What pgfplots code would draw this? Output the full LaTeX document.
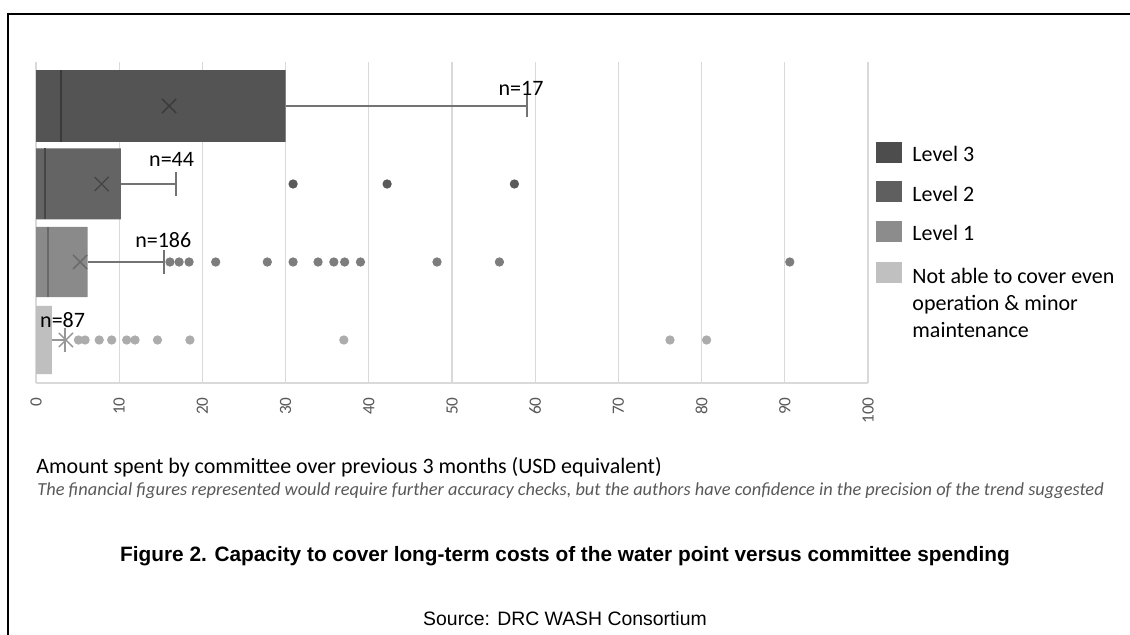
\documentclass[border=0pt]{standalone}
\usepackage{fontspec}
\setmainfont{Carlito}
\newfontfamily\arialfont{Liberation Sans}
\usepackage{pgfplots}
\pgfplotsset{compat=1.18}
\definecolor{gridc}{RGB}{217,217,217}
\definecolor{tickc}{RGB}{89,89,89}
\definecolor{cthree}{RGB}{84,84,84}
\definecolor{cthreem}{RGB}{58,58,58}
\definecolor{ctwo}{RGB}{100,100,100}
\definecolor{ctwom}{RGB}{70,70,70}
\definecolor{cone}{RGB}{138,138,138}
\definecolor{conem}{RGB}{105,105,105}
\definecolor{czero}{RGB}{191,191,191}
\definecolor{otwo}{RGB}{90,90,90}
\definecolor{oone}{RGB}{125,125,125}
\definecolor{ozero}{RGB}{172,172,172}
\definecolor{whc}{RGB}{115,115,115}
\definecolor{whzero}{RGB}{150,150,150}
\definecolor{lthree}{RGB}{77,77,77}
\definecolor{ltwo}{RGB}{95,95,95}
\definecolor{lone}{RGB}{140,140,140}
\definecolor{lzero}{RGB}{192,192,192}
\begin{document}
\begin{tikzpicture}
\path[use as bounding box] (0,0) rectangle (565pt,317.5pt);
\fill[white] (0,0) rectangle (565pt,317.5pt);
\draw[black, line width=1pt] (4pt,0) -- (4pt,310.5pt) -- (565pt,310.5pt);
\begin{axis}[
  at={(18pt,126pt)}, anchor=south west, scale only axis,
  width=416pt, height=160.5pt,
  xmin=0, xmax=100, ymin=-0.551, ymax=3.564,
  xtick={0,10,...,100}, ytick=\empty,
  xmajorgrids, grid style={gridc, line width=0.6pt},
  axis lines*=left, axis line style={gridc, line width=0.6pt},
  major tick length=0pt,
  xticklabel style={rotate=90, anchor=east, inner sep=0pt, font=\fontsize{8.6}{10}\selectfont, text=tickc},
  xticklabel shift=7pt,
  /pgf/number format/assume math mode=true,
  legend style={at={(1,1)}, anchor=north west, xshift=4pt, yshift=-39.75pt,
    draw=none, fill=none, font=\fontsize{11}{13.5}\selectfont, row sep=6.3pt, column sep=3pt, inner sep=0pt},
  legend cell align=left,
  legend image code/.code={\fill[#1] (0pt,-3.6pt) rectangle (13pt,6.9pt);},
  clip=false,
]
\addlegendimage{fill=lthree, draw=none}
\addlegendentry{Level 3}
\addlegendimage{fill=ltwo, draw=none}
\addlegendentry{Level 2}
\addlegendimage{fill=lone, draw=none}
\addlegendentry{Level 1}
\addlegendimage{fill=lzero, draw=none}
\addlegendentry{\begin{tabular}[t]{@{}l@{}}Not able to cover even\\operation \& minor\\maintenance\end{tabular}}

% Level 3
\addplot[forget plot, fill=cthree, draw=none] coordinates {(0,2.54) (30,2.54) (30,3.46) (0,3.46) (0,2.54)};
\addplot[forget plot, draw=cthreem, line width=1pt] coordinates {(3,2.54) (3,3.46)};
\addplot[forget plot, draw=whc, line width=1pt] coordinates {(30,3) (59,3)};
\addplot[forget plot, draw=whc, line width=1pt] coordinates {(59,2.86) (59,3.14)};
\addplot[forget plot, only marks, color=cthreem, mark=x, mark size=5pt, mark options={line width=0.7pt}] coordinates {(16,3)};
% Level 2
\addplot[forget plot, fill=ctwo, draw=none] coordinates {(0,1.545) (10.2,1.545) (10.2,2.455) (0,2.455) (0,1.545)};
\addplot[forget plot, draw=ctwom, line width=1pt] coordinates {(1.1,1.545) (1.1,2.455)};
\addplot[forget plot, draw=whc, line width=1pt] coordinates {(10.2,2) (16.8,2)};
\addplot[forget plot, draw=whc, line width=1pt] coordinates {(16.8,1.85) (16.8,2.15)};
\addplot[forget plot, only marks, color=ctwom, mark=x, mark size=5pt, mark options={line width=0.7pt}] coordinates {(7.9,2)};
\addplot[forget plot, only marks, color=otwo, mark=*, mark size=2.1pt] coordinates {(30.9,2) (42.2,2) (57.5,2)};
% Level 1
\addplot[forget plot, fill=cone, draw=none] coordinates {(0,0.55) (6.2,0.55) (6.2,1.45) (0,1.45) (0,0.55)};
\addplot[forget plot, draw=conem, line width=1pt] coordinates {(1.4,0.55) (1.4,1.45)};
\addplot[forget plot, draw=whc, line width=1pt] coordinates {(6.2,1) (15.4,1)};
\addplot[forget plot, draw=whc, line width=1pt] coordinates {(15.4,0.85) (15.4,1.15)};
\addplot[forget plot, only marks, color=conem, mark=x, mark size=5pt, mark options={line width=0.7pt}] coordinates {(5.3,1)};
\addplot[forget plot, only marks, color=oone, mark=*, mark size=2.1pt] coordinates {(16.1,1) (17.2,1) (18.4,1) (21.6,1) (27.8,1) (30.9,1) (33.9,1) (35.8,1) (37.1,1) (39.0,1) (48.2,1) (55.7,1) (90.6,1)};
% Level 0
\addplot[forget plot, fill=czero, draw=none] coordinates {(0,-0.436) (1.9,-0.436) (1.9,0.436) (0,0.436) (0,-0.436)};
\addplot[forget plot, draw=whzero, line width=1pt] coordinates {(1.9,0) (3.5,0)};
\addplot[forget plot, draw=whzero, line width=1pt] coordinates {(3.5,-0.15) (3.5,0.15)};
\addplot[forget plot, only marks, color=whzero, mark=x, mark size=5pt, mark options={line width=0.7pt}] coordinates {(3.6,0)};
\addplot[forget plot, only marks, color=ozero, mark=*, mark size=2.1pt] coordinates {(5.1,0) (5.9,0) (7.6,0) (9.1,0) (10.9,0) (11.9,0) (14.6,0) (18.5,0) (37.0,0) (76.2,0) (80.6,0)};

\node[font=\fontsize{11}{12}\selectfont] at (axis cs:58.3,3.22) {n=17};
\node[font=\fontsize{11}{12}\selectfont] at (axis cs:16.3,2.32) {n=44};
\node[font=\fontsize{11}{12}\selectfont] at (axis cs:15.3,1.28) {n=186};
\node[font=\fontsize{11}{12}\selectfont] at (axis cs:3.2,0.26) {n=87};
\end{axis}
\node[anchor=west, inner sep=0pt, font=\fontsize{11}{12}\selectfont] at (18pt,84pt) {Amount spent by committee over previous 3 months (USD equivalent)};
\node[anchor=west, inner sep=0pt, text=tickc, font=\fontsize{9.19}{10}\selectfont\itshape] at (18.5pt,72pt) {The financial figures represented would require further accuracy checks, but the authors have confidence in the precision of the trend suggested};
\node[inner sep=0pt, font=\arialfont\bfseries\fontsize{10.4}{12}\selectfont] at (282.5pt,39.5pt) {Figure 2. Capacity to cover long-term costs of the water point versus committee spending};
\node[inner sep=0pt, font=\arialfont\fontsize{9.7}{11}\selectfont] at (282.5pt,8pt) {Source: DRC WASH Consortium};
\end{tikzpicture}
\end{document}
